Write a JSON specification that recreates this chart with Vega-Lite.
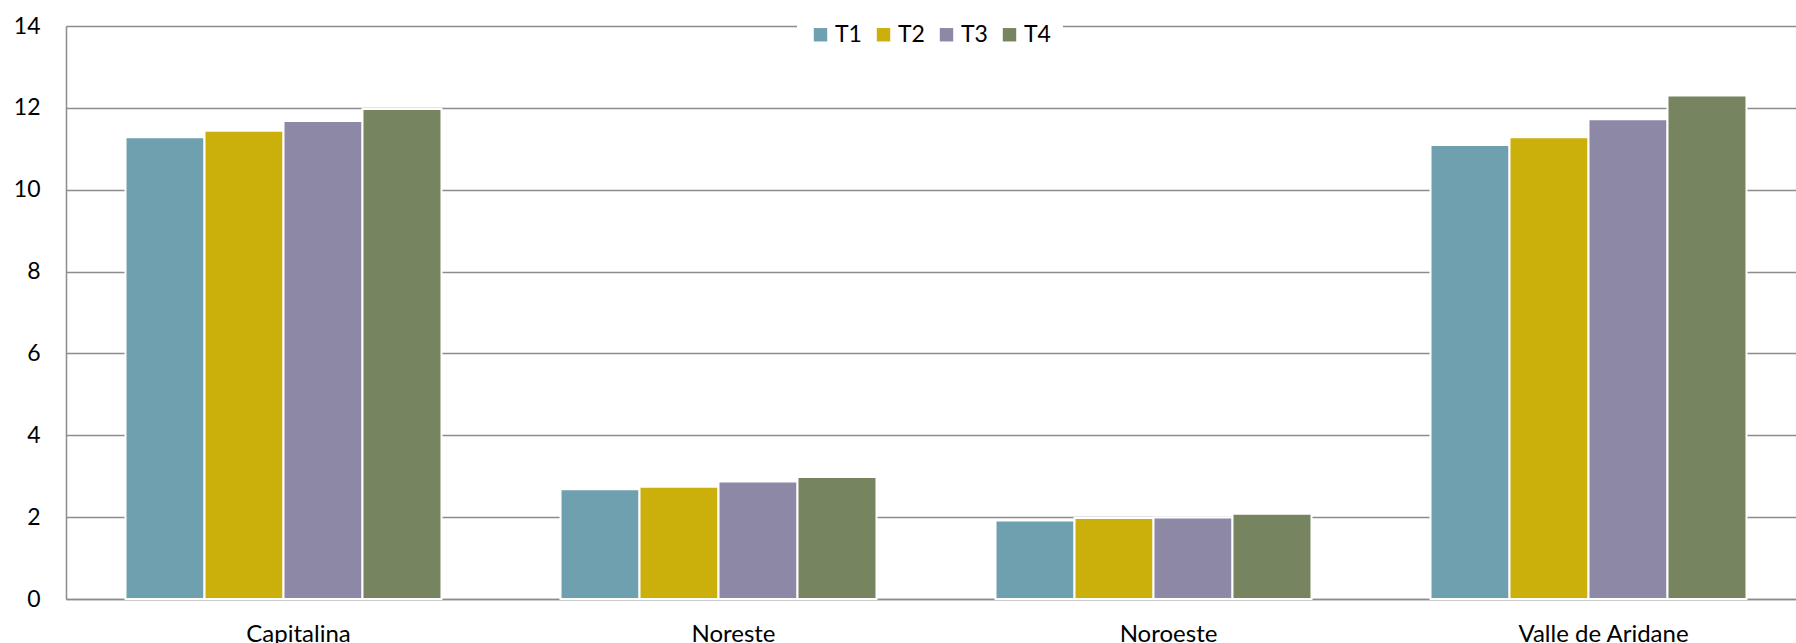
{
  "$schema": "https://vega.github.io/schema/vega-lite/v6.json",
  "autosize": "none",
  "width": 1740,
  "height": 573,
  "padding": {"left": 66, "top": 26, "right": 0, "bottom": 44},
  "background": "white",
  "config": {
    "font": "Lato",
    "view": {"stroke": null}
  },
  "data": {
    "values": [
      {"zona": "Capitalina", "trimestre": "T1", "valor": 11.28},
      {"zona": "Capitalina", "trimestre": "T2", "valor": 11.44},
      {"zona": "Capitalina", "trimestre": "T3", "valor": 11.68},
      {"zona": "Capitalina", "trimestre": "T4", "valor": 11.97},
      {"zona": "Noreste", "trimestre": "T1", "valor": 2.68},
      {"zona": "Noreste", "trimestre": "T2", "valor": 2.74},
      {"zona": "Noreste", "trimestre": "T3", "valor": 2.87},
      {"zona": "Noreste", "trimestre": "T4", "valor": 2.98},
      {"zona": "Noroeste", "trimestre": "T1", "valor": 1.92},
      {"zona": "Noroeste", "trimestre": "T2", "valor": 1.98},
      {"zona": "Noroeste", "trimestre": "T3", "valor": 1.99},
      {"zona": "Noroeste", "trimestre": "T4", "valor": 2.08},
      {"zona": "Valle de Aridane", "trimestre": "T1", "valor": 11.09},
      {"zona": "Valle de Aridane", "trimestre": "T2", "valor": 11.28},
      {"zona": "Valle de Aridane", "trimestre": "T3", "valor": 11.72},
      {"zona": "Valle de Aridane", "trimestre": "T4", "valor": 12.3}
    ]
  },
  "mark": {"type": "bar", "stroke": "white", "strokeWidth": 2},
  "encoding": {
    "x": {
      "field": "zona",
      "type": "nominal",
      "sort": null,
      "title": null,
      "scale": {"paddingInner": 0.2736, "paddingOuter": 0.1368},
      "axis": {
        "labelAngle": 0,
        "labelFontSize": 24,
        "labelColor": "#000000",
        "labelBaseline": "alphabetic",
        "labelPadding": 42,
        "labelOffset": 15,
        "ticks": false,
        "domain": true,
        "domainColor": "#8c8c8c",
        "domainWidth": 1.5
      }
    },
    "xOffset": {
      "field": "trimestre",
      "type": "nominal",
      "scale": {"paddingInner": 0, "paddingOuter": 0}
    },
    "y": {
      "field": "valor",
      "type": "quantitative",
      "title": null,
      "scale": {"domain": [0, 14], "nice": false},
      "axis": {
        "values": [0, 2, 4, 6, 8, 10, 12, 14],
        "labelFontSize": 23,
        "labelColor": "#000000",
        "labelPadding": 26,
        "ticks": false,
        "domain": true,
        "domainColor": "#8c8c8c",
        "domainWidth": 1.5,
        "grid": true,
        "gridColor": "#8c8c8c",
        "gridWidth": 1.3
      }
    },
    "color": {
      "field": "trimestre",
      "type": "nominal",
      "title": null,
      "scale": {
        "domain": ["T1", "T2", "T3", "T4"],
        "range": ["#6FA0AF", "#CBAF0B", "#8C88A5", "#76845F"]
      },
      "legend": {
        "orient": "none",
        "direction": "horizontal",
        "legendX": 731,
        "legendY": -15,
        "fillColor": "white",
        "padding": 12,
        "symbolType": "square",
        "symbolSize": 180,
        "symbolStrokeWidth": 0,
        "labelFontSize": 23,
        "labelColor": "#000000",
        "labelOffset": 3,
        "columnPadding": 10
      }
    }
  }
}
